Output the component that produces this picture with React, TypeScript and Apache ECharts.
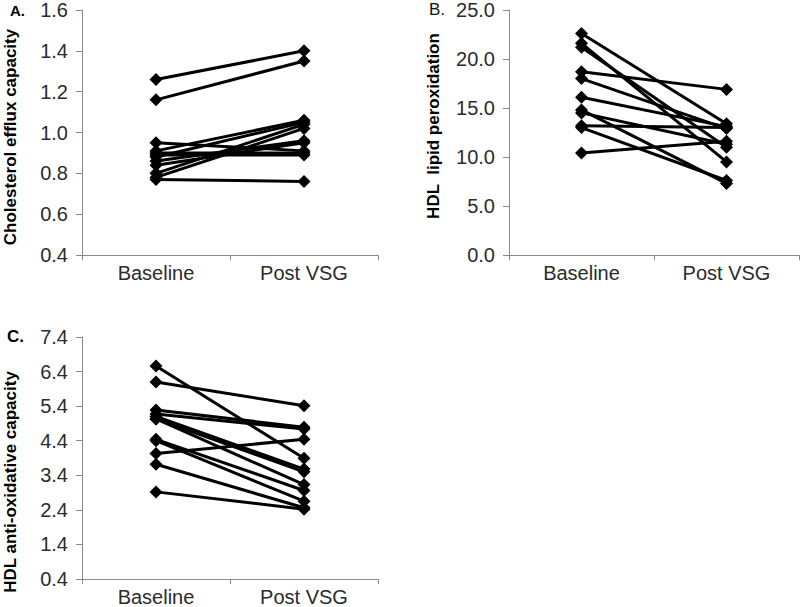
import React, { useEffect, useRef } from "react";
import * as echarts from "echarts";

const categories = ["Baseline", "Post VSG"];

// Panel A: Cholesterol efflux capacity
const effluxBaseline = [1.26, 1.16, 0.95, 0.91, 0.9, 0.88, 0.86, 0.84, 0.8, 0.78, 0.77, 0.89];
const effluxPost = [1.4, 1.35, 0.91, 1.06, 0.9, 1.05, 0.96, 0.95, 1.04, 1.02, 0.76, 0.89];
const effluxTicks = { min: 0.4, max: 1.6, interval: 0.2 };

// Panel B: HDL lipid peroxidation
const peroxBaseline = [22.6, 21.6, 21.2, 18.7, 18.0, 16.1, 14.8, 14.5, 13.2, 13.0, 10.4];
const peroxPost = [13.4, 9.5, 11.0, 16.9, 12.9, 13.1, 7.3, 11.3, 13.0, 7.6, 11.6];
const peroxTicks = { min: 0, max: 25, interval: 5 };

// Panel C: HDL anti-oxidative capacity
const antiBaseline = [6.56, 6.1, 5.29, 5.17, 5.1, 5.03, 5.03, 4.44, 4.4, 4.03, 3.72, 2.92];
const antiPost = [3.89, 5.41, 4.79, 4.74, 3.58, 3.5, 3.13, 2.96, 2.65, 4.44, 2.46, 2.42];
const antiTicks = { min: 0.4, max: 7.4, interval: 1 };

const panelLabels = ["A.", "B.", "C."];
const axisTitles = ["Cholesterol efflux capacity", "HDL  lipid peroxidation", "HDL anti-oxidative capacity"];

const FONT = "'Liberation Sans', Arial, sans-serif";
const AXIS_COLOR = "#8a8a8a";
const TEXT_COLOR = "#2b2b2b";

export default function App() {
  const ref = useRef<HTMLDivElement>(null);

  useEffect(() => {
    if (!ref.current) return;
    const chart = echarts.init(ref.current, undefined, { renderer: "svg" });

    const grids = [
      { left: 82, top: 10, width: 296, height: 245 },
      { left: 509, top: 10, width: 290, height: 245 },
      { left: 82, top: 337, width: 296, height: 246 },
    ];
    const ticks = [effluxTicks, peroxTicks, antiTicks];

    const xAxes = grids.map((_, i) => ({
      type: "category",
      gridIndex: i,
      data: categories,
      boundaryGap: true,
      axisLine: { lineStyle: { color: AXIS_COLOR, width: 1 } },
      axisTick: { show: true, length: 5, lineStyle: { color: AXIS_COLOR } },
      axisLabel: { color: TEXT_COLOR, fontSize: 20, fontFamily: FONT, margin: 8 },
      splitLine: { show: false },
    }));

    const yAxes = grids.map((_, i) => ({
      type: "value",
      gridIndex: i,
      min: ticks[i].min,
      max: ticks[i].max,
      interval: ticks[i].interval,
      axisLine: { show: true, lineStyle: { color: AXIS_COLOR, width: 1 } },
      axisTick: { show: true, length: 6, lineStyle: { color: AXIS_COLOR } },
      axisLabel: {
        color: TEXT_COLOR,
        fontSize: 20,
        fontFamily: FONT,
        margin: 14,
        formatter: (v: number) => v.toFixed(1),
      },
      splitLine: { show: false },
    }));

    const panels = [
      [effluxBaseline, effluxPost],
      [peroxBaseline, peroxPost],
      [antiBaseline, antiPost],
    ];

    const series: any[] = [];
    panels.forEach(([base, post], p) => {
      base.forEach((b, k) => {
        series.push({
          type: "line",
          xAxisIndex: p,
          yAxisIndex: p,
          data: [b, post[k]],
          symbol: "diamond",
          symbolSize: 13,
          lineStyle: { color: "#000", width: 3 },
          itemStyle: { color: "#000" },
          silent: true,
        });
      });
    });

    const graphic: any[] = [
      { type: "text", left: 10, top: 3, style: { text: panelLabels[0], font: `bold 15px ${FONT}`, fill: "#000" } },
      { type: "text", left: 429, top: 1, style: { text: panelLabels[1], font: `17px ${FONT}`, fill: "#111" } },
      { type: "text", left: 7, top: 328, style: { text: panelLabels[2], font: `bold 17px ${FONT}`, fill: "#000" } },
      {
        type: "text", x: 10, y: 137, rotation: Math.PI / 2,
        style: { text: axisTitles[0], font: `bold 17px ${FONT}`, fill: "#000", align: "center", verticalAlign: "middle" },
      },
      {
        type: "text", x: 433, y: 126, rotation: Math.PI / 2,
        style: { text: axisTitles[1], font: `bold 17px ${FONT}`, fill: "#000", align: "center", verticalAlign: "middle" },
      },
      {
        type: "text", x: 10, y: 482, rotation: Math.PI / 2,
        style: { text: axisTitles[2], font: `bold 17px ${FONT}`, fill: "#000", align: "center", verticalAlign: "middle" },
      },
    ];

    chart.setOption({
      animation: false,
      backgroundColor: "#fff",
      grid: grids,
      xAxis: xAxes,
      yAxis: yAxes,
      series,
      graphic,
    });

    return () => chart.dispose();
  }, []);

  return (
    <div
      ref={ref}
      style={{ position: "absolute", left: 0, top: 0, width: 800, height: 607 }}
    />
  );
}
